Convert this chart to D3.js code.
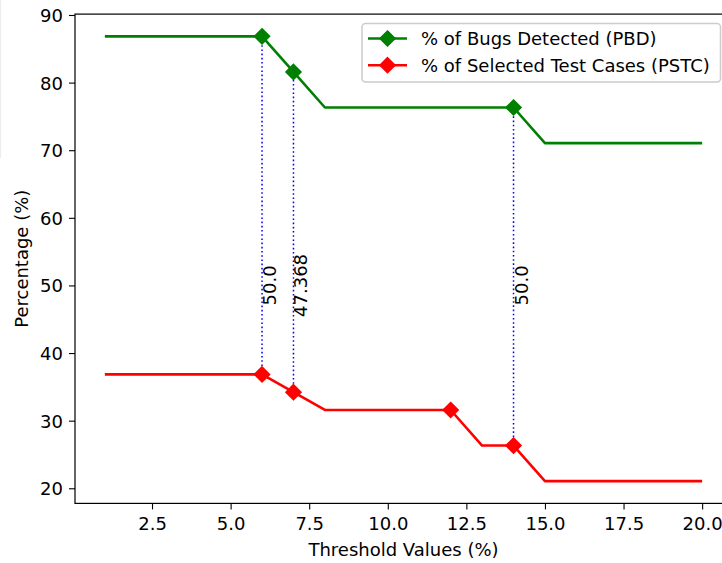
<!DOCTYPE html>
<html>
<head>
<meta charset="utf-8">
<script src="https://cdn.jsdelivr.net/npm/d3@7"></script>
<style>
  html, body { margin: 0; padding: 0; background: #fff; }
  svg { display: block; font-family: "DejaVu Sans", sans-serif; }
</style>
</head>
<body>
<svg id="chart" width="722" height="563"></svg>
<script>
// Threshold sweep: share of bugs detected vs share of test cases selected
const thresholds = [1, 2, 3, 4, 5, 6, 7, 8, 9, 10, 11, 12, 13, 14, 15, 16, 17, 18, 19, 20];
const pbd = [86.842, 86.842, 86.842, 86.842, 86.842, 86.842, 81.579, 76.316, 76.316, 76.316,
             76.316, 76.316, 76.316, 76.316, 71.053, 71.053, 71.053, 71.053, 71.053, 71.053];
const pstc = [36.842, 36.842, 36.842, 36.842, 36.842, 36.842, 34.211, 31.579, 31.579, 31.579,
              31.579, 31.579, 26.316, 26.316, 21.053, 21.053, 21.053, 21.053, 21.053, 21.053];
const pbdMarked = [6, 7, 14];
const pstcMarked = [6, 7, 12, 14];
const gapThresholds = [6, 7, 14];
const gapLabelLevel = 50;
const xTicks = [2.5, 5.0, 7.5, 10.0, 12.5, 15.0, 17.5, 20.0];
const yTicks = [20, 30, 40, 50, 60, 70, 80, 90];
const seriesNames = ["% of Bugs Detected (PBD)", "% of Selected Test Cases (PSTC)"];
const seriesColors = ["#008000", "#ff0000"];

const FS = 18;
const svg = d3.select("#chart");
const plot = { left: 75, right: 732, top: 14.1, bottom: 503.4 };

// axis limits with 5% padding around the data
const xMin = d3.min(thresholds), xMax = d3.max(thresholds);
const xPad = (xMax - xMin) * 0.05;
const allY = pbd.concat(pstc);
const yMin = d3.min(allY), yMax = d3.max(allY);
const yPad = (yMax - yMin) * 0.05;

const x = d3.scaleLinear().domain([xMin - xPad, xMax + xPad]).range([plot.left, plot.right]);
const y = d3.scaleLinear().domain([yMin - yPad, yMax + yPad]).range([plot.bottom, plot.top]);

// faint strip at the left edge
svg.append("rect").attr("x", 0).attr("y", 0).attr("width", 1.2).attr("height", 158)
  .attr("fill", "#ededed");

// axes
const yAxis = svg.append("g").attr("transform", `translate(${plot.left},0)`)
  .call(d3.axisLeft(y).tickValues(yTicks).tickSize(6).tickPadding(6).tickFormat(d3.format("d")));
const xAxis = svg.append("g").attr("transform", `translate(0,${plot.bottom})`)
  .call(d3.axisBottom(x).tickValues(xTicks).tickSize(6).tickPadding(6).tickFormat(d3.format(".1f")));
[xAxis, yAxis].forEach(g => {
  g.select(".domain").remove();
  g.selectAll(".tick line").attr("stroke", "#000").attr("stroke-width", 1.1);
  g.selectAll(".tick text").attr("fill", "#000").attr("font-size", FS)
    .attr("font-family", "DejaVu Sans, sans-serif");
});
yAxis.selectAll(".tick text").attr("dy", "0.36em");
xAxis.selectAll(".tick text").attr("dy", "0.73em").attr("y", 13);

// spines
const spine = svg.append("g").attr("stroke", "#000").attr("stroke-width", 1.2).attr("fill", "none");
spine.append("rect").attr("x", plot.left).attr("y", plot.top)
  .attr("width", plot.right - plot.left).attr("height", plot.bottom - plot.top);

// axis titles
svg.append("text").attr("x", (plot.left + plot.right) / 2).attr("y", 555.5)
  .attr("text-anchor", "middle").attr("font-size", FS).text("Threshold Values (%)");
svg.append("text").attr("transform", `translate(27.5,${(plot.top + plot.bottom) / 2}) rotate(-90)`)
  .attr("text-anchor", "middle").attr("font-size", FS).text("Percentage (%)");

// dotted connectors between the two series, labelled with the gap
const idx = t => thresholds.indexOf(t);
const fmtGap = v => {
  const r = Math.round(v * 1000) / 1000;
  return Number.isInteger(r) ? r.toFixed(1) : String(r);
};
const gaps = svg.append("g");
gapThresholds.forEach(t => {
  const i = idx(t);
  gaps.append("line")
    .attr("x1", x(t)).attr("x2", x(t)).attr("y1", y(pstc[i])).attr("y2", y(pbd[i]))
    .attr("stroke", "#0000ff").attr("stroke-width", 1.5).attr("stroke-dasharray", "1.6,2.6");
  gaps.append("text")
    .attr("transform", `translate(${x(t) + 14},${y(gapLabelLevel)}) rotate(-90)`)
    .attr("text-anchor", "middle").attr("font-size", FS)
    .text(fmtGap(pbd[i] - pstc[i]));
});

// series lines and diamond markers
const line = d3.line().x(d => x(d[0])).y(d => y(d[1]));
const diamond = (cx, cy, r) => `M${cx},${cy - r}L${cx + r},${cy}L${cx},${cy + r}L${cx - r},${cy}Z`;
const R = 7.4;
[[pbd, pbdMarked], [pstc, pstcMarked]].forEach(([vals, marked], s) => {
  const pts = thresholds.map((t, i) => [t, vals[i]]);
  svg.append("path").attr("d", line(pts)).attr("fill", "none")
    .attr("stroke", seriesColors[s]).attr("stroke-width", 2.6).attr("stroke-linejoin", "round");
  svg.append("g").selectAll("path").data(marked).join("path")
    .attr("d", t => diamond(x(t), y(vals[idx(t)]), R))
    .attr("fill", seriesColors[s]).attr("stroke", seriesColors[s]).attr("stroke-width", 1.7);
});

// legend
const lg = svg.append("g");
lg.append("rect").attr("x", 362).attr("y", 23.5).attr("width", 358.5).attr("height", 58.5)
  .attr("rx", 3.5).attr("fill", "#fff").attr("fill-opacity", 0.8)
  .attr("stroke", "#cccccc").attr("stroke-width", 1.5);
seriesNames.forEach((name, s) => {
  const cy = 38.5 + s * 26.7;
  lg.append("line").attr("x1", 368).attr("x2", 407).attr("y1", cy).attr("y2", cy)
    .attr("stroke", seriesColors[s]).attr("stroke-width", 2.6);
  lg.append("path").attr("d", diamond(387.5, cy, R))
    .attr("fill", seriesColors[s]).attr("stroke", seriesColors[s]).attr("stroke-width", 1.7);
  lg.append("text").attr("x", 421).attr("y", cy).attr("dy", "0.36em")
    .attr("font-size", FS).text(name);
});
</script>
</body>
</html>
